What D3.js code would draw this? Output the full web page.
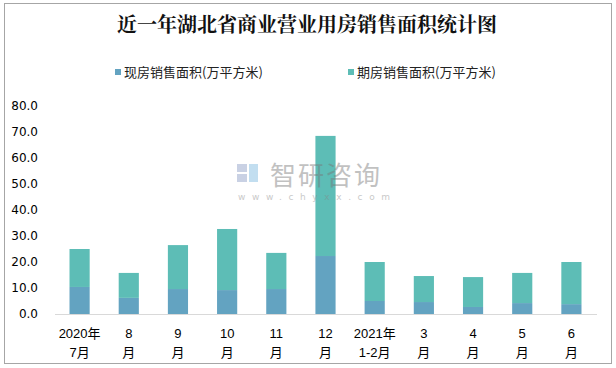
<!DOCTYPE html>
<html><head><meta charset="utf-8">
<script src="https://cdn.jsdelivr.net/npm/d3@7"></script>
<style>body{margin:0;background:#fff}svg{display:block}</style>
</head><body>
<script>
const categories = ["2020年\n7月","8\n月","9\n月","10\n月","11\n月","12\n月","2021年\n1-2月","3\n月","4\n月","5\n月","6\n月"];
const spotValues = [10.4, 6.2, 9.6, 9.2, 9.6, 22.3, 5.0, 4.6, 2.7, 4.2, 3.8];
const futureValues = [14.6, 9.6, 16.9, 23.5, 13.9, 46.2, 15.0, 10.0, 11.5, 11.6, 16.2];
const seriesNames = ["现房销售面积(万平方米)", "期房销售面积(万平方米)"];
const yTicks = [0,10,20,30,40,50,60,70,80];
const title = "近一年湖北省商业营业用房销售面积统计图";

const W = 616, H = 368;
const colors = ["#63a3c1", "#5dbdb6"];
const svg = d3.select("body").append("svg").attr("width", W).attr("height", H);
svg.append("rect").attr("x",4.5).attr("y",3.5).attr("width",607).attr("height",360)
  .attr("fill","#fff").attr("stroke","#a6a6a6").attr("stroke-width",1);

svg.append("text").attr("x",307).attr("y",32).attr("text-anchor","middle")
  .attr("font-family","'Noto Serif CJK SC','Noto Sans CJK SC',serif").attr("font-weight","bold")
  .attr("font-size",20).attr("fill","#111").text(title);

const legendX = [115, 348];
seriesNames.forEach((n,i)=>{
  svg.append("rect").attr("x",legendX[i]).attr("y",69).attr("width",6).attr("height",6).attr("fill",colors[i]);
  svg.append("text").attr("x",legendX[i]+9).attr("y",77).attr("font-family","'Noto Sans CJK SC',sans-serif")
    .attr("font-size",13).attr("fill","#222").text(n);
});

const x = d3.scaleBand().domain(categories).range([55,596]).paddingInner(0.59).paddingOuter(0.295);
const y = d3.scaleLinear().domain([0,80]).range([314,106]);

const stack = d3.stack().keys([0,1])((categories.map((c,i)=>({cat:c,0:spotValues[i],1:futureValues[i]}))));
stack.forEach((s,si)=>{
  svg.append("g").selectAll("rect").data(s).join("rect")
    .attr("x",d=>x(d.data.cat)).attr("width",x.bandwidth())
    .attr("y",d=>y(d[1])).attr("height",d=>y(d[0])-y(d[1]))
    .attr("fill",colors[si]);
});

// watermark (drawn over bars, semi-transparent)
const wm = svg.append("g").attr("opacity",0.45);
wm.append("text").attr("x",270).attr("y",185).attr("font-family","'Noto Sans CJK SC',sans-serif")
  .attr("font-size",26).attr("fill","#777").attr("letter-spacing",2).text("智研咨询");
wm.append("text").attr("x",238).attr("y",200).attr("font-family","'DejaVu Sans',sans-serif")
  .attr("font-size",9).attr("fill","#888").attr("letter-spacing",6.6).text("www.chyxx.com");
wm.append("rect").attr("x",237).attr("y",164).attr("width",10).attr("height",8).attr("fill","#8a9ac4");
wm.append("rect").attr("x",237).attr("y",174).attr("width",10).attr("height",8).attr("fill","#8a9ac4");
wm.append("rect").attr("x",249).attr("y",164).attr("width",9).attr("height",18).attr("fill","#7ab8e0");

const yAxis = svg.append("g").attr("transform","translate(38,0)")
  .call(d3.axisLeft(y).tickValues(yTicks).tickFormat(d3.format(".1f")).tickSize(0).tickPadding(0));
yAxis.select(".domain").remove();
yAxis.selectAll("text").attr("font-family","'DejaVu Sans',sans-serif").attr("font-size",12).attr("fill","#000");

const xAxis = svg.append("g").attr("transform","translate(0,314)")
  .call(d3.axisBottom(x).tickSize(0).tickFormat(""));
xAxis.select(".domain").attr("stroke","#d9d9d9").attr("d","M55,0.5H597");
xAxis.selectAll(".tick").each(function(d){
  const parts = d.split("\n");
  const t = d3.select(this).append("text").attr("fill","#000").attr("text-anchor","middle")
    .attr("font-family","'Liberation Sans','Noto Sans CJK SC',sans-serif").attr("font-size",13);
  t.append("tspan").attr("x",0).attr("y",24).text(parts[0]);
  t.append("tspan").attr("x",0).attr("y",43).text(parts[1]);
});
</script>
</body></html>
